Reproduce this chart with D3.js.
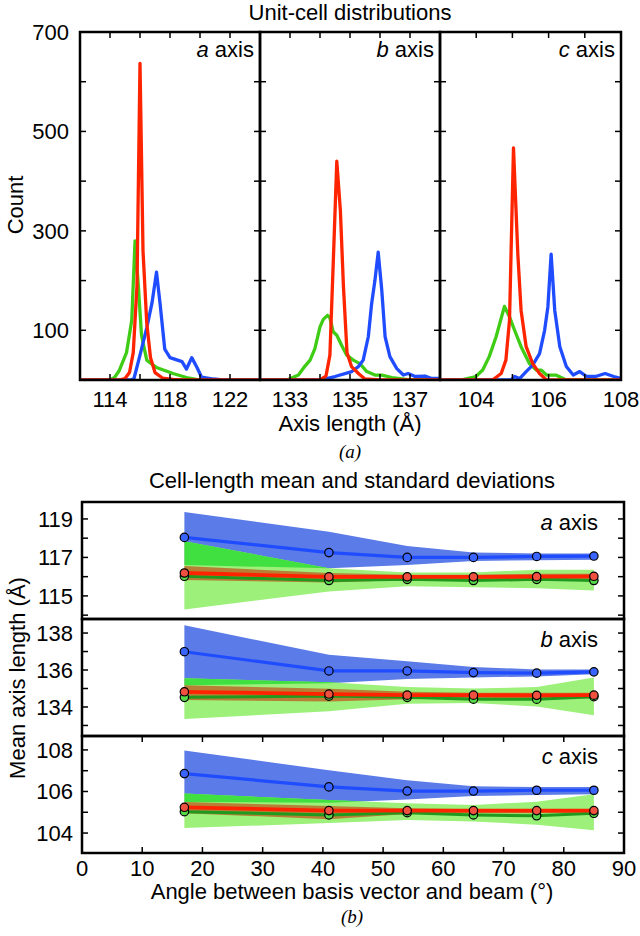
<!DOCTYPE html>
<html><head><meta charset="utf-8">
<script src="https://cdn.jsdelivr.net/npm/d3@7"></script>
<style>
body{margin:0;background:#fff}
text{font-family:"Liberation Sans",Arial,Helvetica,sans-serif;fill:#000}
</style>
</head><body>
<svg id="chart" width="640" height="936"></svg>
<script>
// ---------- Data: unit-cell histograms (axis length, count) ----------
const aGreen = [[112,0],[114.0,0],[114.3,5],[114.6,18],[115.1,55],[115.45,120],[115.67,280],[115.9,185],[116.1,90],[116.45,40],[117.1,25],[118.2,13],[119.1,5],[120,0],[124,0]];
const aBlue  = [[112,0],[115.4,0],[115.6,3],[116.0,50],[116.45,105],[116.8,155],[117.1,217],[117.35,150],[117.65,62],[118.0,45],[118.5,40],[118.8,37],[119.1,22],[119.45,45],[119.8,25],[120.1,6],[120.9,2],[121.5,0],[124,0]];
const aRed   = [[112,0],[114.6,0],[115.0,3],[115.3,15],[115.55,55],[115.8,190],[116.0,637],[116.2,260],[116.45,115],[116.7,45],[117.0,15],[117.5,4],[118.2,1],[119,0],[124,0]];
const bGreen = [[132,0],[132.9,0],[133.28,10],[133.5,28],[133.67,40],[133.83,63],[134.0,107],[134.11,122],[134.25,130],[134.33,125],[134.44,97],[134.56,90],[134.72,70],[134.89,50],[135.11,40],[135.33,33],[135.56,17],[135.83,10],[136.06,10],[136.4,5],[137,0],[138,0]];
const bBlue  = [[132,0],[134.0,0],[134.5,7],[135.06,17],[135.28,27],[135.44,40],[135.61,87],[135.72,153],[135.83,200],[135.94,257],[136.06,180],[136.17,87],[136.33,47],[136.56,23],[136.78,10],[136.94,13],[137.17,7],[137.5,8],[137.72,3],[138,3]];
const bRed   = [[132,0],[134.0,0],[134.2,8],[134.33,50],[134.45,250],[134.56,440],[134.68,340],[134.78,190],[134.9,55],[135.05,27],[135.3,12],[135.5,2],[136,0],[138,0]];
const cGreen = [[103,0],[103.57,0],[103.99,7],[104.18,20],[104.36,47],[104.55,87],[104.78,148],[104.92,127],[105.06,100],[105.24,67],[105.47,33],[105.66,20],[105.8,20],[105.94,10],[106.2,10],[106.49,0],[108,0]];
const cBlue  = [[103,0],[104.96,0],[105.06,7],[105.2,3],[105.38,17],[105.56,30],[105.75,53],[105.89,100],[105.98,147],[106.07,253],[106.17,140],[106.31,67],[106.49,27],[106.68,10],[106.86,17],[107.05,7],[107.3,7],[107.56,13],[107.8,7],[108,3]];
const cRed   = [[103,0],[104.45,0],[104.69,13],[104.82,40],[104.92,120],[105.03,467],[105.15,253],[105.24,140],[105.38,67],[105.56,33],[105.75,13],[105.94,0],[108,0]];

const histDomains = [[112,124],[132,138],[103,108]];
const histTicks   = [[114,116,118,120,122],[133,134,135,136,137],[104,105,106,107]];
const histLabels  = [[114,118,122],[133,135,137],[104,106,108]];
const countTicks  = [100,200,300,400,500,600];
const countLabels = [100,300,500,700];
const axisNames   = ["a","b","c"];

// ---------- Data: mean and standard deviation vs angle ----------
const angles = [17, 41, 54, 65, 75.5, 85];
const aBlueMean  = [118.04,117.25,117.00,117.00,117.05,117.07];
const aBlueHi    = [119.36,118.34,117.60,117.26,117.20,117.20];
const aBlueLo    = [116.60,116.44,116.60,116.82,116.85,116.88];
const aGreenMean = [116.02,115.80,115.86,115.80,115.86,115.80];
const aGreenHi   = [117.84,116.44,116.22,116.22,116.36,116.36];
const aGreenLo   = [114.29,115.23,115.50,115.45,115.40,115.28];
const aRedMean   = [116.19,115.99,115.99,115.99,116.00,116.02];
const aRedHi     = [116.55,116.19,116.10,116.10,116.15,116.15];
const aRedLo     = [115.83,115.70,115.83,115.83,115.81,115.86];

const bBlueMean  = [136.99,135.95,135.95,135.86,135.83,135.90];
const bBlueHi    = [138.42,136.82,136.47,136.16,136.03,136.03];
const bBlueLo    = [135.17,135.29,135.51,135.60,135.65,135.77];
const bGreenMean = [134.52,134.59,134.52,134.42,134.42,134.56];
const bGreenHi   = [135.55,135.34,135.08,135.00,135.08,135.60];
const bGreenLo   = [133.35,133.77,134.17,134.21,134.03,133.55];
const bRedMean   = [134.82,134.70,134.64,134.64,134.63,134.64];
const bRedHi     = [135.17,134.99,134.82,134.77,134.77,134.77];
const bRedLo     = [134.38,134.30,134.42,134.47,134.47,134.47];

const cBlueMean  = [106.86,106.22,106.02,106.02,106.06,106.06];
const cBlueHi    = [107.97,107.02,106.54,106.25,106.22,106.22];
const cBlueLo    = [105.50,105.46,105.62,105.78,105.83,105.87];
const cGreenMean = [105.03,104.87,104.98,104.87,104.83,104.95];
const cGreenHi   = [105.90,105.59,105.43,105.35,105.51,105.87];
const cGreenLo   = [104.24,104.48,104.63,104.56,104.40,104.13];
const cRedMean   = [105.24,105.08,105.08,105.08,105.08,105.08];
const cRedHi     = [105.50,105.30,105.19,105.14,105.14,105.14];
const cRedLo     = [104.95,104.67,104.92,104.95,104.95,104.98];

const angleTicks = [0,10,20,30,40,50,60,70,80,90];
const meanDomains = [[113.8,119.88],[132.43,138.76],[103.04,108.67]];
const meanTicks   = [[114,115,116,117,118,119],[133,134,135,136,137,138],[104,105,106,107,108]];
const meanLabels  = [[115,117,119],[134,136,138],[104,106,108]];

// ---------- Styles ----------
const COL = {red:"#ff2400", green:"#3fcc14", blue:"#1f4cff"};
const FS = 22;
const svg = d3.select("#chart");
const defs = svg.append("defs");

// ================= Top: histograms =================
const hTop = 32, hBot = 380;
const histX = [[80,260],[260,440],[440,621]];
const yC = d3.scaleLinear().domain([0,700]).range([hBot,hTop]);
const histData = [[aGreen,aBlue,aRed],[bGreen,bBlue,bRed],[cGreen,cBlue,cRed]];
const histCols = [COL.green, COL.blue, COL.red];

svg.append("text").attr("x",350).attr("y",20).attr("text-anchor","middle")
  .style("font-size",FS+"px").text("Unit-cell distributions");

histX.forEach((px,i)=>{
  const x = d3.scaleLinear().domain(histDomains[i]).range(px);
  const g = svg.append("g");
  defs.append("clipPath").attr("id","hc"+i).append("rect")
    .attr("x",px[0]).attr("y",hTop).attr("width",px[1]-px[0]).attr("height",hBot-hTop);
  const line = d3.line().x(d=>x(d[0])).y(d=>yC(d[1]));
  const lg = g.append("g").attr("clip-path","url(#hc"+i+")");
  histData[i].forEach((s,k)=>{
    lg.append("path").attr("d",line(s)).attr("fill","none")
      .attr("stroke",histCols[k]).attr("stroke-width",3.3).attr("stroke-linejoin","round");
  });
  const tk = 6;
  countTicks.forEach(t=>{
    g.append("line").attr("x1",px[0]).attr("x2",px[0]+tk).attr("y1",yC(t)).attr("y2",yC(t)).attr("stroke","#000").attr("stroke-width",1.5);
    g.append("line").attr("x1",px[1]).attr("x2",px[1]-tk).attr("y1",yC(t)).attr("y2",yC(t)).attr("stroke","#000").attr("stroke-width",1.5);
  });
  histTicks[i].forEach(t=>{
    g.append("line").attr("x1",x(t)).attr("x2",x(t)).attr("y1",hBot).attr("y2",hBot-tk).attr("stroke","#000").attr("stroke-width",1.5);
    g.append("line").attr("x1",x(t)).attr("x2",x(t)).attr("y1",hTop).attr("y2",hTop+tk).attr("stroke","#000").attr("stroke-width",1.5);
  });
  histLabels[i].forEach(t=>{
    g.append("text").attr("x",x(t)).attr("y",407).attr("text-anchor","middle")
      .style("font-size",FS+"px").text(t);
  });
  g.append("rect").attr("x",px[0]).attr("y",hTop).attr("width",px[1]-px[0]).attr("height",hBot-hTop)
    .attr("fill","none").attr("stroke","#000").attr("stroke-width",2.5);
  const lab = g.append("text").attr("x",px[1]-6).attr("y",57).attr("text-anchor","end").style("font-size",FS+"px");
  lab.append("tspan").style("font-style","italic").text(axisNames[i]);
  lab.append("tspan").text(" axis");
});
countLabels.forEach(t=>{
  svg.append("text").attr("x",69).attr("y",yC(t)).attr("dy","0.36em").attr("text-anchor","end")
    .style("font-size",FS+"px").text(t);
});
svg.append("text").attr("transform","translate(23,205) rotate(-90)").attr("text-anchor","middle")
  .style("font-size",FS+"px").text("Count");
svg.append("text").attr("x",350).attr("y",431).attr("text-anchor","middle")
  .style("font-size",FS+"px").text("Axis length (Å)");
svg.append("text").attr("x",350).attr("y",458).attr("text-anchor","middle")
  .style("font-family","'Liberation Serif','DejaVu Serif',serif").style("font-style","italic").style("font-size","19px").text("(a)");

// ================= Bottom: mean / sd =================
const bx = d3.scaleLinear().domain([0,90]).range([82,624]);
const panelsY = [[502,619],[619,736],[736,853]];
const meanData = [
  {blue:[aBlueMean,aBlueLo,aBlueHi], green:[aGreenMean,aGreenLo,aGreenHi], red:[aRedMean,aRedLo,aRedHi]},
  {blue:[bBlueMean,bBlueLo,bBlueHi], green:[bGreenMean,bGreenLo,bGreenHi], red:[bRedMean,bRedLo,bRedHi]},
  {blue:[cBlueMean,cBlueLo,cBlueHi], green:[cGreenMean,cGreenLo,cGreenHi], red:[cRedMean,cRedLo,cRedHi]}
];

svg.append("text").attr("x",352).attr("y",488).attr("text-anchor","middle")
  .style("font-size",FS+"px").text("Cell-length mean and standard deviations");

panelsY.forEach((py,i)=>{
  const y = d3.scaleLinear().domain(meanDomains[i]).range([py[1],py[0]]);
  const d = meanData[i];
  const g = svg.append("g");
  defs.append("clipPath").attr("id","mc"+i).append("rect")
    .attr("x",82).attr("y",py[0]).attr("width",542).attr("height",py[1]-py[0]);
  const pg = g.append("g").attr("clip-path","url(#mc"+i+")");
  const area = (s)=> d3.area().x((v,j)=>bx(angles[j])).y0((v,j)=>y(s[1][j])).y1((v,j)=>y(s[2][j]))(angles);
  const line = (s)=> d3.line().x((v,j)=>bx(angles[j])).y((v,j)=>y(s[0][j]))(angles);
  pg.append("path").attr("d",area(d.blue)).attr("fill","#5b7be8");
  pg.append("path").attr("d",area(d.green)).attr("fill","#9df07a");
  defs.append("clipPath").attr("id","bb"+i).append("path").attr("d",area(d.blue));
  pg.append("g").attr("clip-path","url(#bb"+i+")").append("path").attr("d",area(d.green)).attr("fill","#3fe03f");
  pg.append("path").attr("d",area(d.red)).attr("fill","#c0541c").attr("fill-opacity",0.72);
  [["green","#1f9a1f","#56d84a",3],["red",COL.red,"#f05040",3.8],["blue",COL.blue,"#3a64ff",3.2]].forEach(([k,lc,pc,w])=>{
    pg.append("path").attr("d",line(d[k])).attr("fill","none").attr("stroke",lc).attr("stroke-width",w);
    d[k][0].forEach((v,j)=>{
      pg.append("circle").attr("cx",bx(angles[j])).attr("cy",y(v)).attr("r",4.2)
        .attr("fill",pc).attr("stroke","#000").attr("stroke-width",1.2);
    });
  });
  meanTicks[i].forEach(t=>{
    g.append("line").attr("x1",82).attr("x2",88).attr("y1",y(t)).attr("y2",y(t)).attr("stroke","#000").attr("stroke-width",1.5);
    g.append("line").attr("x1",624).attr("x2",618).attr("y1",y(t)).attr("y2",y(t)).attr("stroke","#000").attr("stroke-width",1.5);
  });
  meanLabels[i].forEach(t=>{
    g.append("text").attr("x",73).attr("y",y(t)).attr("dy","0.36em").attr("text-anchor","end")
      .style("font-size",FS+"px").text(t);
  });
  if(i===2){
    angleTicks.forEach(t=>{
      g.append("line").attr("x1",bx(t)).attr("x2",bx(t)).attr("y1",py[1]).attr("y2",py[1]-6).attr("stroke","#000").attr("stroke-width",1.5);
      g.append("line").attr("x1",bx(t)).attr("x2",bx(t)).attr("y1",py[0]).attr("y2",py[0]+6).attr("stroke","#000").attr("stroke-width",1.5);
      g.append("text").attr("x",bx(t)).attr("y",876).attr("text-anchor","middle")
        .style("font-size",FS+"px").text(t);
    });
  }
  g.append("rect").attr("x",82).attr("y",py[0]).attr("width",542).attr("height",py[1]-py[0])
    .attr("fill","none").attr("stroke","#000").attr("stroke-width",2.5);
  const lab = g.append("text").attr("x",598).attr("y",py[0]+28).attr("text-anchor","end").style("font-size",FS+"px");
  lab.append("tspan").style("font-style","italic").text(axisNames[i]);
  lab.append("tspan").text(" axis");
});
svg.append("text").attr("transform","translate(25,678) rotate(-90)").attr("text-anchor","middle")
  .style("font-size",FS+"px").text("Mean axis length (Å)");
svg.append("text").attr("x",352).attr("y",899).attr("text-anchor","middle")
  .style("font-size",FS+"px").text("Angle between basis vector and beam (°)");
svg.append("text").attr("x",352).attr("y",923).attr("text-anchor","middle")
  .style("font-family","'Liberation Serif','DejaVu Serif',serif").style("font-style","italic").style("font-size","19px").text("(b)");
</script>
</body></html>
